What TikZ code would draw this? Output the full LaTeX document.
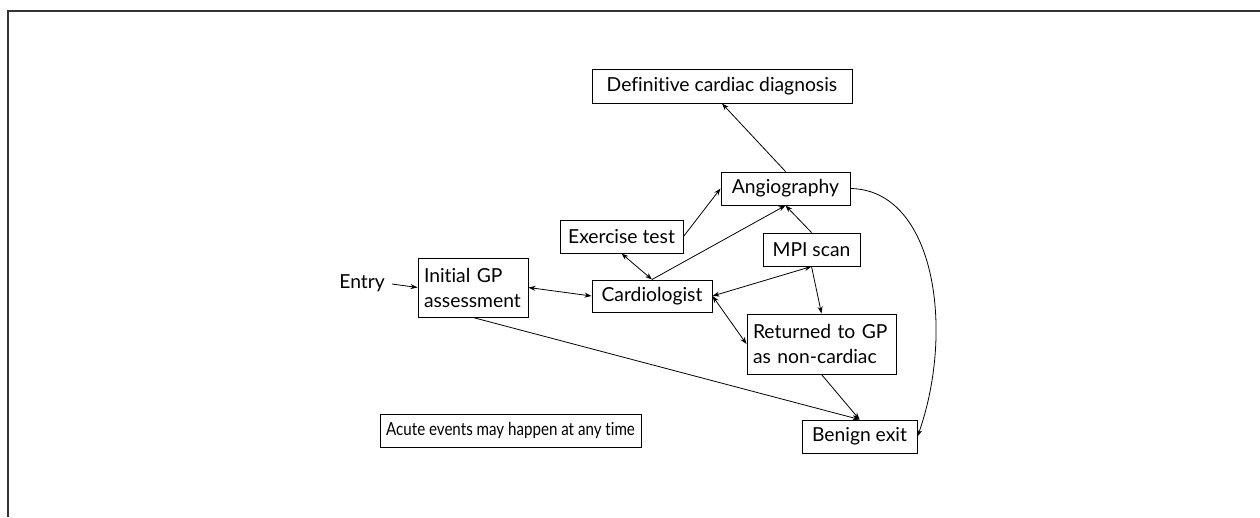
\documentclass[tikz,border=0pt]{standalone}
\usepackage{fontspec}
\setmainfont{Lato}[Ligatures=NoCommon]
\usetikzlibrary{arrows.meta,calc}
\begin{document}
\begin{tikzpicture}[x=1pt,y=-1pt,
  box/.style={draw, line width=1pt, inner sep=0pt, font=\fontsize{19.3}{25}\selectfont},
  lbl/.style={font=\fontsize{19.3}{25}\selectfont, inner sep=0pt},
  arr/.style={line width=0.8pt, -{Stealth[length=7pt,width=5pt]}},
  barr/.style={line width=0.8pt, {Stealth[length=7pt,width=5pt]}-{Stealth[length=7pt,width=5pt]}}
]
\useasboundingbox (0,0) rectangle (1260,517);
% frame
\draw[line width=2pt, black!80] (8,517) -- (8,11) -- (1260,11);
% nodes
\node[box, minimum width=260pt, minimum height=34pt] (diag) at (722,86) {Definitive cardiac diagnosis};
\node[box, minimum width=129pt, minimum height=33pt] (angio) at (785.5,188.5) {Angiography};
\node[box, minimum width=123pt, minimum height=33pt] (exer) at (621.5,236.5) {Exercise test};
\node[box, minimum width=120pt, minimum height=32pt] (cardio) at (652,296) {Cardiologist};
\node[box, minimum width=110pt, minimum height=59pt, align=left, text width=98pt] (gp) at (473,287.5) {Initial GP\\assessment};
\node[box, minimum width=97pt, minimum height=33pt] (mpi) at (811.5,249.5) {MPI scan};
\node[box, minimum width=149pt, minimum height=60pt, align=left, text width=137pt] (ret) at (821.5,344) {Returned to GP\\as non-cardiac};
\node[box, minimum width=115pt, minimum height=33pt] (benign) at (859.5,436.5) {Benign exit};
\node[box, minimum width=261pt, minimum height=33pt, font=\fontsize{18}{22}\selectfont] (acute) at (510.5,430.5) {\scalebox{0.84}[1]{Acute events may happen at any time}};
\node[lbl, anchor=east] (entry) at (385,283) {Entry};
% connectors
\draw[arr] ($(entry.east)+(7,1)$) -- (gp.west);
\draw[barr] (gp.east) -- (cardio.west);
\draw[barr] (exer.south) -- (cardio.north);
\draw[arr] (cardio.north) -- (angio.south);
\draw[arr] (exer.east) -- (angio.west);
\draw[arr] (mpi.north) -- (angio.south);
\draw[arr] (angio.north) -- (diag.south);
\draw[barr] (cardio.east) -- (mpi.south);
\draw[barr] (cardio.east) -- (ret.west);
\draw[arr] (mpi.south) -- (ret.north);
\draw[arr] (ret.south) -- (benign.north);
\draw[arr] (gp.south) -- (benign.north);
\draw[arr] (angio.east) .. controls (935,190) and (955,330) .. (benign.east);
\end{tikzpicture}
\end{document}
